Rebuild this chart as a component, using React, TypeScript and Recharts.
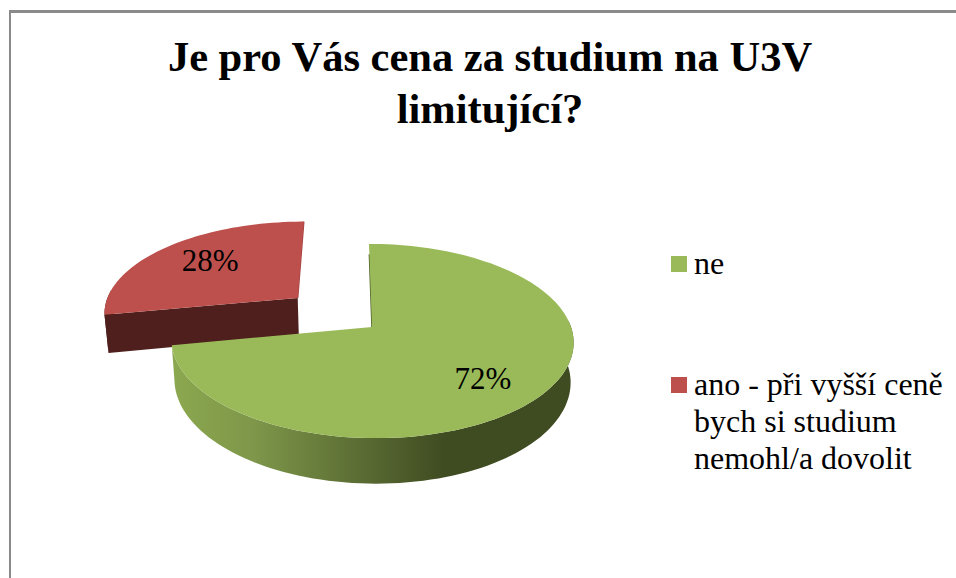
import { Legend, Pie, PieChart } from 'recharts';

const titleLines = ['Je pro Vás cena za studium na U3V', 'limitující?'];
const categories = ['ne', 'ano - při vyšší ceně bych si studium nemohl/a dovolit'];
const shares = [72, 28];
const colors = ['#9aba59', '#bd504c'];
const wallColors = ['url(#greenWall)', '#4f1f1d'];
const edgeColors = ['#4f6228', '#a5423f'];
const explode = [0, 0.5];
const labelRadius = [0.67, 0.65];
const labelShift = [8, -3];

// the red slice has to be painted first, the green one overlaps its wall
const table = categories
  .map((name, i) => ({ name, share: shares[i], fill: colors[i], wall: wallColors[i], edge: edgeColors[i], explode: explode[i], labelRadius: labelRadius[i], labelShift: labelShift[i] }))
  .reverse();
const firstAngle = 90 + (360 * shares[1]) / 100;

const TILT = 0.478;
const PERSPECTIVE = 0.144;
const SHEAR = 0.036;
const DEPTH = 39;
const RAD = Math.PI / 180;

function project(cx: number, cy: number, r: number, u: number, v: number, lowered = false) {
  const s = 1 / (1 - PERSPECTIVE * v);
  const y = TILT * r * v * s;
  const x = (r * u * s + SHEAR * y) * (lowered ? 0.985 : 1);
  return [cx + x, cy + y + (lowered ? DEPTH * s : 0)];
}

function toPath(points: number[][]) {
  return points.map((p, i) => `${i ? 'L' : 'M'}${p[0].toFixed(1)} ${p[1].toFixed(1)}`).join(' ') + ' Z';
}

function Slice(props: any) {
  const { cx, cy, outerRadius, startAngle, endAngle, midAngle, payload } = props;
  const u0 = Math.cos(midAngle * RAD) * payload.explode;
  const v0 = -Math.sin(midAngle * RAD) * payload.explode;
  const angles: number[] = [];
  for (let a = startAngle; a > endAngle; a -= 2) angles.push(a);
  angles.push(endAngle);
  const at = (a: number, lowered = false) =>
    project(cx, cy, outerRadius, u0 + Math.cos(a * RAD), v0 - Math.sin(a * RAD), lowered);
  const hub = project(cx, cy, outerRadius, u0, v0);
  const hubLow = project(cx, cy, outerRadius, u0, v0, true);
  const rim = angles.map((a) => at(a));
  // only the part of the outer wall that faces the viewer
  const front = angles.filter((a) => Math.sin(a * RAD) < 0.1);
  const wall = toPath([...front.map((a) => at(a)), ...front.slice().reverse().map((a) => at(a, true))]);
  const startFace = toPath([hub, rim[0], at(startAngle, true), hubLow]);
  const isGreen = payload.name === categories[0];
  const edgeFrom = isGreen ? project(cx, cy, outerRadius, u0, v0 - 0.86) : at(90);
  return (
    <g>
      <defs>
        <linearGradient id="greenWall" x1="0" y1="0" x2="1" y2="0">
          <stop offset="0%" stopColor="#8ca84f" />
          <stop offset="20%" stopColor="#7e974a" />
          <stop offset="68%" stopColor="#3f4b21" />
          <stop offset="100%" stopColor="#3f4b21" />
        </linearGradient>
      </defs>
      <path d={wall} fill={payload.wall} />
      {!isGreen && <path d={startFace} fill={payload.wall} />}
      <path d={`M${hub[0]} ${hub[1]} L${edgeFrom[0]} ${edgeFrom[1]}`} stroke={payload.edge} strokeWidth={1.5} />
      <path d={toPath([hub, ...rim])} fill={payload.fill} />
    </g>
  );
}

function SliceLabel(props: any) {
  const { cx, cy, outerRadius, midAngle, payload } = props;
  const u = Math.cos(midAngle * RAD) * (payload.explode + payload.labelRadius);
  const v = -Math.sin(midAngle * RAD) * (payload.explode + payload.labelRadius);
  const [x, y] = project(cx, cy, outerRadius, u, v);
  return (
    <text x={x} y={y + payload.labelShift} textAnchor="middle" dominantBaseline="central" fontSize={31} fill="#000" fontFamily="'Liberation Serif'">
      {payload.share}%
    </text>
  );
}

function LegendList() {
  return (
    <div style={{ fontFamily: "'Liberation Serif'", fontSize: 32, lineHeight: '37px', color: '#000' }}>
      {categories.map((name, i) => (
        <div key={name} style={{ display: 'flex', marginBottom: i === 0 ? 84 : 0 }}>
          <div style={{ width: 16, height: 16, marginTop: 11, marginRight: 7, flex: 'none', background: colors[i] }} />
          <div style={{ width: 262, textAlign: 'left' }}>{name}</div>
        </div>
      ))}
    </div>
  );
}

export default function App() {
  return (
    <div style={{ position: 'absolute', left: 0, top: 0, width: 956, height: 578, overflow: 'hidden', background: '#fff' }}>
      <div style={{ position: 'absolute', left: 9, top: 10, width: 960, height: 580, borderLeft: '2px solid #8a8a8a', borderTop: '3px solid #8a8a8a' }} />
      <div
        style={{
          position: 'absolute',
          left: 90,
          top: 31,
          width: 800,
          textAlign: 'center',
          fontFamily: "'Liberation Serif'",
          fontWeight: 700,
          fontSize: 42.5,
          lineHeight: '52px',
          color: '#000',
        }}
      >
        {titleLines.map((line) => (
          <div key={line}>{line}</div>
        ))}
      </div>
      <PieChart width={956} height={578} margin={{ top: 0, right: 0, bottom: 0, left: 0 }} style={{ position: 'absolute', left: 0, top: 0 }}>
        <Pie
          data={table}
          dataKey="share"
          nameKey="name"
          cx={372}
          cy={327}
          outerRadius={199}
          startAngle={firstAngle}
          endAngle={firstAngle - 360}
          stroke="none"
          shape={Slice}
          label={SliceLabel}
          labelLine={false}
          isAnimationActive={false}
        />
        <Legend
          layout="vertical"
          content={<LegendList />}
          wrapperStyle={{ position: 'absolute', left: 671, top: 245, width: 285, bottom: 'auto', right: 'auto' }}
        />
      </PieChart>
    </div>
  );
}
